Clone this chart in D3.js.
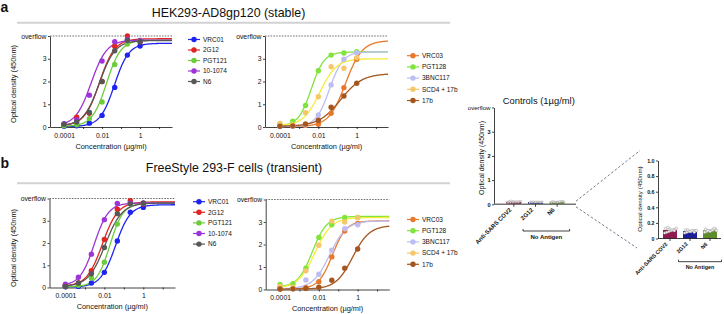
<!DOCTYPE html>
<html><head><meta charset="utf-8">
<script src="https://cdn.jsdelivr.net/npm/d3@7"></script>
<style>
body{margin:0;background:#fff}
svg{display:block}
text{font-family:"Liberation Sans",Arial,Helvetica,sans-serif;fill:#111}
</style>
</head><body>
<svg id="c" width="724" height="314"></svg>
<script>
// ---------------- DATA ----------------
const conc = [0.0001, 0.000464, 0.00215, 0.01, 0.0464, 0.215, 1];
const xTickValues = [1e-4, 1e-3, 1e-2, 1e-1, 1, 10];
const xTickLabelValues = [1e-4, 1e-2, 1];
const xTickLabels = ["0.0001", "0.01", "1"];
const yTickValues = [0, 1, 2, 3, 4];
const yTickLabels = ["0", "1", "2", "3", "overflow"];

const panelLetters = ["a", "b"];
const panelTitles = ["HEK293-AD8gp120 (stable)", "FreeStyle 293-F cells (transient)"];

const seriesLeft = ["VRC01", "2G12", "PGT121", "10-1074", "N6"];
const colorsLeft = ["#1d24f2", "#e0241f", "#6dcc3c", "#9c34d6", "#575757"];
const seriesRight = ["VRC03", "PGT128", "3BNC117", "SCD4 + 17b", "17b"];
const colorsRight = ["#e8792c", "#80e43c", "#bdbdf2", "#f6c66c", "#a4561e"];
const lineColorsRight = ["#e8792c", "#80e43c", "#bdbdf2", "#f7ec3a", "#a4561e"];

// HEK293 (stable) - left panel values (OD at each concentration)
const hekLeftValues = [
  [0.03, 0.05, 0.17, 0.51, 1.74, 3.16, 3.56],
  [0.10, 0.43, 0.60, 2.00, 3.55, 4.00, 3.75],
  [0.05, 0.10, 0.37, 1.10, 2.75, 3.65, 3.80],
  [0.15, 0.32, 1.40, 2.90, 3.75, 3.85, 3.80],
  [0.12, 0.22, 0.64, 2.00, 3.35, 3.80, 3.75]
];
// fitted curve parameters [top, bottom, EC50, hill]
const hekLeftFits = [
  [3.68, 0.02, 0.045, 1.15],
  [3.88, 0.05, 0.0074, 1.09],
  [3.82, 0.03, 0.0172, 1.15],
  [3.82, 0.05, 0.00266, 1.06],
  [3.80, 0.05, 0.0072, 1.05]
];
const hekRightValues = [
  [0.04, 0.03, 0.07, 0.12, 0.60, 1.73, 2.98],
  [0.12, 0.26, 0.95, 2.47, 3.16, 3.25, 3.31],
  [0.02, 0.03, 0.10, 0.53, 1.85, 2.98, 3.27],
  [0.16, 0.10, 0.63, 1.33, 2.65, 2.58, 3.05],
  [0.03, 0.05, 0.13, 0.30, 0.87, 1.36, 1.92]
];
const hekRightFits = [
  [3.80, 0.02, 0.26, 1.0],
  [3.30, 0.05, 0.0043, 1.3],
  [3.30, 0.02, 0.038, 1.24],
  [3.00, 0.05, 0.012, 1.0],
  [2.35, 0.03, 0.143, 0.77]
];
// FreeStyle 293-F (transient)
const fsLeftValues = [
  [0.03, 0.05, 0.20, 0.68, 2.09, 3.38, 3.60],
  [0.08, 0.20, 0.75, 2.16, 3.52, 3.90, 3.75],
  [0.05, 0.10, 0.43, 1.14, 2.85, 3.76, 3.78],
  [0.15, 0.46, 1.50, 3.05, 3.78, 3.80, 3.80],
  [0.05, 0.20, 0.62, 1.80, 3.32, 3.76, 3.79]
];
const fsLeftFits = [
  [3.72, 0.02, 0.037, 1.14],
  [3.85, 0.05, 0.0079, 1.08],
  [3.80, 0.03, 0.0195, 1.27],
  [3.80, 0.08, 0.0030, 1.19],
  [3.80, 0.04, 0.011, 1.0]
];
const fsRightValues = [
  [0.02, 0.03, 0.08, 0.35, 1.45, 2.60, 2.94],
  [0.22, 0.26, 0.95, 2.31, 2.88, 3.20, 3.20],
  [0.10, 0.05, 0.42, 0.68, 1.75, 2.70, 2.88],
  [0.15, 0.10, 0.83, 1.97, 3.04, 3.00, 3.20],
  [0.02, 0.03, 0.05, 0.10, 0.41, 0.95, 1.80]
];
const fsRightFits = [
  [3.05, 0.02, 0.05, 1.21],
  [3.25, 0.10, 0.0046, 1.16],
  [3.05, 0.03, 0.036, 1.0],
  [3.20, 0.05, 0.0062, 1.0],
  [2.85, 0.02, 0.55, 1.0]
];

// Controls
const ctrlTitle = "Controls (1µg/ml)";
const ctrlCats = ["Anti-SARS COV2", "2G12", "N6"];
const ctrlColors = ["#8e1a50", "#1c1f98", "#5f8c2a"];
const ctrlMeans = [0.11, 0.095, 0.105];
const ctrlRepAnti = [0.07, 0.08, 0.09, 0.10, 0.11, 0.12, 0.13, 0.14, 0.12, 0.11, 0.10, 0.13];
const ctrlRep2G12 = [0.07, 0.08, 0.09, 0.09, 0.10, 0.10, 0.11, 0.11, 0.09, 0.10, 0.08, 0.10];
const ctrlRepN6 = [0.08, 0.09, 0.10, 0.10, 0.11, 0.12, 0.12, 0.10, 0.09, 0.11, 0.13, 0.10];
const ctrlGroupLabel = "No Antigen";
const insetTicks = [0, 0.2, 0.4, 0.6, 0.8, 1.0];

// ---------------- DRAW ----------------
const svg = d3.select("#c");
const FONT_TICK = 6.8, FONT_TITLE = 7.4, FONT_LEG = 6.5;

function fourPL(p, x) { return p[1] + (p[0] - p[1]) / (1 + Math.pow(p[2] / x, p[3])); }

function styleAxis(g) {
  g.selectAll("path.domain").attr("stroke", "#111").attr("stroke-width", 0.8);
  g.selectAll(".tick line").attr("stroke", "#111").attr("stroke-width", 0.8);
  g.selectAll("text").attr("fill", "#111").style("font-family", '"Liberation Sans",Arial,sans-serif');
}

function drawCurveChart(c) {
  const x = d3.scaleLog().domain([Math.pow(10, c.lx), Math.pow(10, c.rx)]).range([c.x0, c.x1]);
  const y = d3.scaleLinear().domain([0, 4]).range([c.y0, c.yTop]);
  const g = svg.append("g");

  const xa = g.append("g").attr("transform", `translate(0,${c.y0})`)
    .call(d3.axisBottom(x).tickValues(xTickValues).tickSize(2).tickSizeOuter(0).tickPadding(3.8)
      .tickFormat(v => { const i = xTickLabelValues.findIndex(t => Math.abs(Math.log10(t) - Math.log10(v)) < 1e-6); return i >= 0 ? xTickLabels[i] : ""; }));
  xa.selectAll("text").style("font-size", FONT_TICK + "px");
  styleAxis(xa);

  const ya = g.append("g").attr("transform", `translate(${c.x0},0)`)
    .call(d3.axisLeft(y).tickValues(yTickValues).tickSize(2).tickSizeOuter(0).tickPadding(1.5)
      .tickFormat((v, i) => yTickLabels[i]));
  ya.selectAll("text").style("font-size", FONT_TICK + "px");
  styleAxis(ya);

  g.append("line").attr("x1", c.x0).attr("x2", c.x1).attr("y1", y(4)).attr("y2", y(4))
    .attr("stroke", "#333").attr("stroke-width", 0.7).attr("stroke-dasharray", "1.6,1.2");

  const xs = d3.range(0, 241).map(i => Math.pow(10, -4.15 + i * (c.rx + 4.15) / 240));
  const line = d3.line().x(d => x(d[0])).y(d => y(d[1])).curve(d3.curveLinear);
  c.fits.forEach((p, si) => {
    g.append("path").datum(xs.map(v => [v, fourPL(p, v)]))
      .attr("d", line).attr("fill", "none").attr("stroke", c.lineColors[si]).attr("stroke-width", 1.3);
  });
  c.values.forEach((vals, si) => {
    g.append("g").selectAll("circle").data(vals).join("circle")
      .attr("cx", (d, i) => x(conc[i])).attr("cy", d => y(d)).attr("r", 2.7)
      .attr("fill", c.colors[si]);
  });

  g.append("text").attr("x", (c.x0 + c.x1) / 2).attr("y", c.y0 + 21.5)
    .attr("text-anchor", "middle").style("font-size", FONT_TITLE + "px").text("Concentration (µg/ml)");

  c.names.forEach((n, i) => {
    const ly = c.legY + i * c.legStep;
    g.append("line").attr("x1", c.legX - 6).attr("x2", c.legX + 6).attr("y1", ly).attr("y2", ly)
      .attr("stroke", c.colors[i]).attr("stroke-width", 1.2);
    g.append("circle").attr("cx", c.legX).attr("cy", ly).attr("r", 2.7).attr("fill", c.colors[i]);
    g.append("text").attr("x", c.legX + 9).attr("y", ly).attr("dy", "0.35em")
      .style("font-size", FONT_LEG + "px").text(n);
  });
  return { x, y };
}

const charts = [
  { values: hekLeftValues, fits: hekLeftFits, names: seriesLeft, colors: colorsLeft, lineColors: colorsLeft,
    x0: 50, x1: 172, lx: -4.74, rx: 1.68, y0: 127, yTop: 36, legX: 194, legY: 39.5, legStep: 10.5 },
  { values: hekRightValues, fits: hekRightFits, names: seriesRight, colors: colorsRight, lineColors: lineColorsRight,
    x0: 265, x1: 388, lx: -4.78, rx: 1.63, y0: 127, yTop: 36, legX: 413, legY: 55.7, legStep: 11.2 },
  { values: fsLeftValues, fits: fsLeftFits, names: seriesLeft, colors: colorsLeft, lineColors: colorsLeft,
    x0: 49.5, x1: 175, lx: -4.82, rx: 1.63, y0: 287.5, yTop: 198.5, legX: 199, legY: 201.7, legStep: 10.6 },
  { values: fsRightValues, fits: fsRightFits, names: seriesRight, colors: colorsRight, lineColors: lineColorsRight,
    x0: 265.7, x1: 389.3, lx: -4.74, rx: 1.63, y0: 289.5, yTop: 199.5, legX: 413, legY: 219.5, legStep: 11.2 }
];
charts.forEach(drawCurveChart);

[[13, 84], [13, 248]].forEach(p => {
  svg.append("text").attr("transform", `translate(${p[0] + 2.5},${p[1]}) rotate(-90)`)
    .attr("text-anchor", "middle").style("font-size", FONT_TITLE + "px").text("Optical density (450nm)");
});

const panelGeom = [{ ly: 11.5, ty: 16.5, tx: 228.5, sep: 22.7 }, { ly: 168, ty: 172, tx: 234, sep: 183.3 }];
panelGeom.forEach((p, i) => {
  svg.append("text").attr("x", 0.5).attr("y", p.ly).style("font-size", "14px").style("font-weight", "bold").text(panelLetters[i]);
  svg.append("text").attr("x", p.tx).attr("y", p.ty).attr("text-anchor", "middle").style("font-size", "12.4px").text(panelTitles[i]);
  svg.append("line").attr("x1", 17).attr("x2", 450).attr("y1", p.sep).attr("y2", p.sep)
    .attr("stroke", "#d2d2d2").attr("stroke-width", 2);
});

// ---------------- CONTROLS ----------------
const ctrlReps = [ctrlRepAnti, ctrlRep2G12, ctrlRepN6];

function drawBarChart(o) {
  const g = svg.append("g");
  const x = d3.scalePoint().domain(ctrlCats).range([o.bx0, o.bx1]).padding(0.5);
  const y = d3.scaleLinear().domain(o.domain).range([o.y0, o.yTop]);
  const ya = g.append("g").attr("transform", `translate(${o.ax0},0)`)
    .call(d3.axisLeft(y).tickValues(o.ticks).tickSize(2).tickSizeOuter(0).tickPadding(1.5).tickFormat(o.fmt));
  ya.selectAll("text").style("font-size", o.tickFont + "px").style("font-weight", "bold");
  ya.selectAll("text").filter(function () { return this.textContent === "overflow"; }).style("font-weight", "normal").style("font-size", (o.tickFont + 0.5) + "px");
  styleAxis(ya);
  g.selectAll("rect.bar").data(ctrlMeans).join("rect")
    .attr("x", (d, i) => x(ctrlCats[i]) - o.bw / 2).attr("width", o.bw)
    .attr("y", d => y(d)).attr("height", d => y(0) - y(d))
    .attr("fill", (d, i) => ctrlColors[i]);
  ctrlReps.forEach((reps, ci) => {
    g.append("g").selectAll("circle").data(reps).join("circle")
      .attr("cx", (d, i) => x(ctrlCats[ci]) + ((i % 6) - 2.5) * (o.bw / 6.5) + (Math.floor(i / 6) ? o.bw / 13 : 0))
      .attr("cy", d => y(d)).attr("r", o.dotR)
      .attr("fill", "#f4f4f4").attr("stroke", "#8a8a8a").attr("stroke-width", 0.4);
  });
  g.append("line").attr("x1", o.ax0).attr("x2", o.ax1).attr("y1", y(0)).attr("y2", y(0)).attr("stroke", o.axisColor).attr("stroke-width", o.axisW);
  ctrlCats.forEach(c => {
    g.append("line").attr("x1", x(c)).attr("x2", x(c)).attr("y1", y(0)).attr("y2", y(0) + 2.5).attr("stroke", "#111").attr("stroke-width", 0.8);
    g.append("text").attr("transform", `translate(${x(c) - 2},${y(0) + 6}) rotate(-45)`)
      .attr("text-anchor", "end").style("font-size", o.catFont + "px").style("font-weight", "bold").text(c);
  });
  const bx1 = x(ctrlCats[1]) - o.brOut, bx2 = x(ctrlCats[2]) + o.brOut;
  g.append("path").attr("d", `M${bx1},${o.brY - 2}V${o.brY}H${bx2}V${o.brY - 2}`)
    .attr("fill", "none").attr("stroke", "#111").attr("stroke-width", 0.8);
  g.append("text").attr("x", (bx1 + bx2) / 2).attr("y", o.brY + 7.5).attr("text-anchor", "middle")
    .style("font-size", o.catFont + "px").style("font-weight", "bold").text(ctrlGroupLabel);
  g.append("text").attr("transform", `translate(${o.titleX},${o.titleY}) rotate(-90)`)
    .attr("text-anchor", "middle").style("font-size", o.titleFont + "px").text("Optical density (450nm)");
  return { x, y };
}

const main = drawBarChart({
  bx0: 503, bx1: 568, ax0: 494, ax1: 576, y0: 204.3, yTop: 107.5, domain: [0, 4],
  ticks: yTickValues, fmt: (v, i) => yTickLabels[i], tickFont: 5.6, bw: 15, dotR: 0.9,
  axisColor: "#777", axisW: 1.6, catFont: 6, brY: 231, brOut: 12.5, titleX: 484, titleY: 158, titleFont: 7
});
const inset = drawBarChart({
  bx0: 660, bx1: 720, ax0: 658, ax1: 721, y0: 238.5, yTop: 160.5, domain: [0, 1],
  ticks: insetTicks, fmt: v => v === 0 ? "0" : v.toFixed(1), tickFont: 5.3, bw: 14, dotR: 1.3,
  axisColor: "#111", axisW: 0.8, catFont: 5.4, brY: 261.7, brOut: 11.5, titleX: 642, titleY: 199, titleFont: 6.2
});

svg.append("text").attr("x", 502.7).attr("y", 104).style("font-size", "9.4px").text(ctrlTitle);

const conn = [
  [576, main.y(0.13), 640, inset.y(1.0) - 10],
  [576, main.y(0) + 2.5, 637, inset.y(0) + 9.5]
];
conn.forEach(l => {
  svg.append("line").attr("x1", l[0]).attr("y1", l[1]).attr("x2", l[2]).attr("y2", l[3])
    .attr("stroke", "#4d5a6e").attr("stroke-width", 0.8).attr("stroke-dasharray", "2.5,2");
});
</script>
</body></html>
